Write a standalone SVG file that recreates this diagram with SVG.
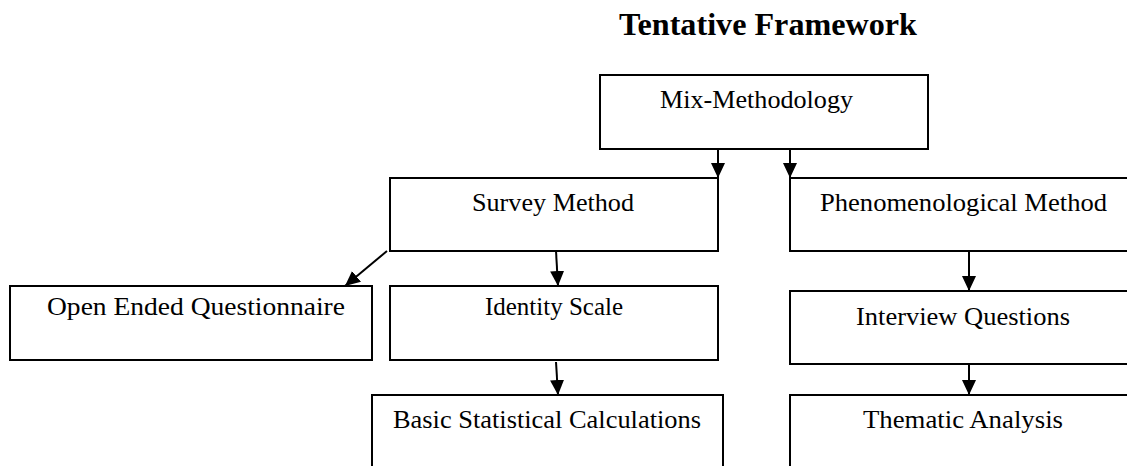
<svg xmlns="http://www.w3.org/2000/svg" width="1127" height="466" viewBox="0 0 1127 466">
<style>
.box{fill:#fff;stroke:#000;stroke-width:2}
.t{font-family:"Liberation Serif","Times New Roman",serif;font-size:25px;fill:#000}
.title{font-family:"Liberation Serif","Times New Roman",serif;font-size:32px;font-weight:bold;fill:#000}
.c{stroke:#000;stroke-width:2;fill:none;marker-end:url(#ah)}
</style>
<defs>
<marker id="ah" markerUnits="userSpaceOnUse" markerWidth="16" markerHeight="16" viewBox="0 0 16 16" refX="15" refY="8" orient="auto">
<path d="M0,1 L15,8 L0,15 Z" fill="#000"/>
</marker>
</defs>
<rect width="1127" height="466" fill="#fff"/>
<text class="title" x="619" y="35" textLength="298" lengthAdjust="spacingAndGlyphs">Tentative Framework</text>
<g id="mix"><rect class="box" x="600" y="75" width="328" height="74"/><text class="t" x="660" y="108" textLength="193" lengthAdjust="spacingAndGlyphs">Mix-Methodology</text></g>
<g id="survey"><rect class="box" x="390" y="178" width="328" height="73"/><text class="t" x="472" y="211" textLength="162" lengthAdjust="spacingAndGlyphs">Survey Method</text></g>
<g id="phen"><rect class="box" x="790" y="178" width="345" height="73"/><text class="t" x="820" y="211" textLength="287" lengthAdjust="spacingAndGlyphs">Phenomenological Method</text></g>
<g id="open"><rect class="box" x="10" y="286" width="362" height="74"/><text class="t" x="47" y="315" textLength="298" lengthAdjust="spacingAndGlyphs">Open Ended Questionnaire</text></g>
<g id="identity"><rect class="box" x="390" y="286" width="328" height="74"/><text class="t" x="554" y="315" text-anchor="middle">Identity Scale</text></g>
<g id="interview"><rect class="box" x="790" y="291" width="345" height="73"/><text class="t" x="856" y="325" textLength="214" lengthAdjust="spacingAndGlyphs">Interview Questions</text></g>
<g id="basic"><rect class="box" x="372" y="395" width="351" height="80"/><text class="t" x="393" y="428" textLength="308" lengthAdjust="spacingAndGlyphs">Basic Statistical Calculations</text></g>
<g id="thematic"><rect class="box" x="790" y="395" width="345" height="80"/><text class="t" x="863" y="428" textLength="200" lengthAdjust="spacingAndGlyphs">Thematic Analysis</text></g>
<g id="connectors">
<line class="c" x1="718" y1="149" x2="718" y2="178"/>
<line class="c" x1="790" y1="149" x2="790" y2="178"/>
<line class="c" x1="387" y1="251" x2="345" y2="286"/>
<line class="c" x1="556" y1="251" x2="558" y2="286"/>
<line class="c" x1="556" y1="362" x2="558" y2="395"/>
<line class="c" x1="969" y1="251" x2="969" y2="291"/>
<line class="c" x1="969" y1="364" x2="969" y2="395"/>
</g>
</svg>
